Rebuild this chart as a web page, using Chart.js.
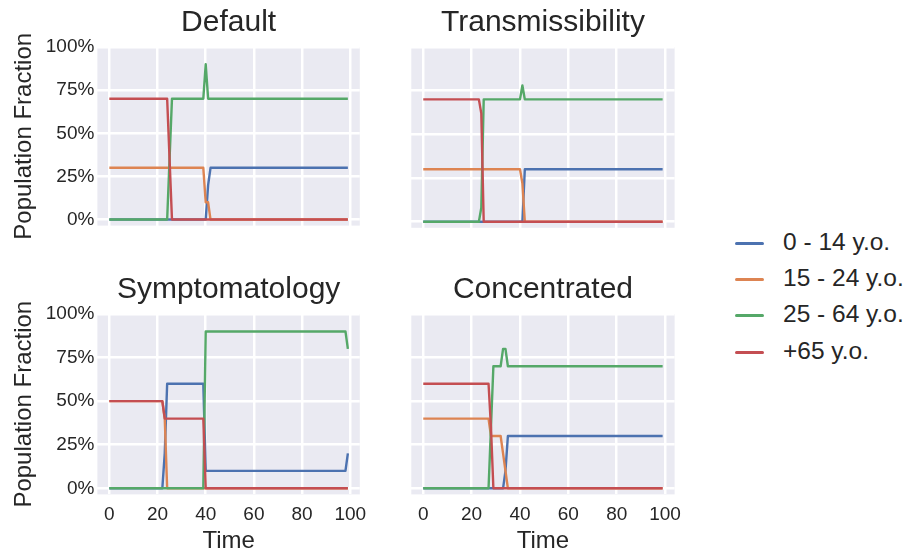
<!DOCTYPE html>
<html lang="en">
<head>
<meta charset="UTF-8">
<script src="https://cdn.jsdelivr.net/npm/chart.js"></script>
<title>Population Fraction by scenario</title>
<style>
  body { margin: 0; background: #fff; }
  #fig { position: relative; width: 911px; height: 557px; overflow: hidden; }
  #fig canvas { position: absolute; }
  #legend { position: absolute; left: 735px; top: 224px; font: 24.5px 'Liberation Sans', Arial, sans-serif; color: #262626; }
  #legend .item { height: 36.2px; line-height: 36.2px; white-space: nowrap; }
  #legend .swatch { display: inline-block; width: 29px; height: 3px; border-radius: 1.5px; margin-right: 19px; vertical-align: middle; }
</style>
</head>
<body>
<div id="fig">
  <canvas id="cDefault" width="380" height="240" style="left:0;top:0"></canvas>
  <canvas id="cTrans" width="295" height="240" style="left:400px;top:0"></canvas>
  <canvas id="cSympt" width="380" height="290" style="left:0;top:267px"></canvas>
  <canvas id="cConc" width="295" height="290" style="left:400px;top:267px"></canvas>
  <div id="legend"></div>
</div>
<script>
// age groups and colours (seaborn "deep")
const groups = ['0 - 14 y.o.', '15 - 24 y.o.', '25 - 64 y.o.', '+65 y.o.'];
const colors = ['#4C72B0', '#DD8452', '#55A868', '#C44E52'];

const xTicks = [0, 20, 40, 60, 80, 100];
const yTicks = [0, 0.25, 0.5, 0.75, 1.0];

// [time, fraction] points where each curve changes
const defaultKids   = [[0, 0], [40, 0], [41, 0.2], [42, 0.3], [99, 0.3]];
const defaultYoung  = [[0, 0.3], [39, 0.3], [40, 0.1], [41, 0.1], [42, 0], [99, 0]];
const defaultAdults = [[0, 0], [24, 0], [25, 0.35], [26, 0.7], [39, 0.7], [40, 0.9], [41, 0.7], [99, 0.7]];
const defaultOld    = [[0, 0.7], [24, 0.7], [25, 0.35], [26, 0], [99, 0]];

const transKids   = [[0, 0], [41, 0], [42, 0.3], [99, 0.3]];
const transYoung  = [[0, 0.3], [40, 0.3], [41, 0.22], [42, 0], [99, 0]];
const transAdults = [[0, 0], [23, 0], [24, 0.08], [25, 0.7], [40, 0.7], [41, 0.78], [42, 0.7], [99, 0.7]];
const transOld    = [[0, 0.7], [23, 0.7], [24, 0.62], [25, 0], [99, 0]];

const symptKids   = [[0, 0], [22, 0], [23, 0.2], [24, 0.6], [39, 0.6], [40, 0.1], [98, 0.1], [99, 0.2]];
const symptYoung  = [[0, 0.5], [22, 0.5], [23, 0.4], [24, 0], [99, 0]];
const symptAdults = [[0, 0], [39, 0], [40, 0.9], [98, 0.9], [99, 0.8]];
const symptOld    = [[0, 0.5], [22, 0.5], [23, 0.4], [39, 0.4], [40, 0], [99, 0]];

const concKids   = [[0, 0], [33, 0], [34, 0.1], [35, 0.3], [99, 0.3]];
const concYoung  = [[0, 0.4], [27, 0.4], [28, 0.3], [32, 0.3], [33, 0.2], [34, 0.1], [35, 0], [99, 0]];
const concAdults = [[0, 0], [27, 0], [28, 0.35], [29, 0.7], [32, 0.7], [33, 0.8], [34, 0.8], [35, 0.7], [99, 0.7]];
const concOld    = [[0, 0.6], [27, 0.6], [28, 0.35], [29, 0], [99, 0]];

const FONT = "'Liberation Sans', Arial, sans-serif";
const TEXT = '#262626';
Chart.defaults.font.family = FONT;
Chart.defaults.color = TEXT;

const plotBg = {
  id: 'plotBg',
  beforeDraw(chart) {
    const { ctx, chartArea: a } = chart;
    ctx.save();
    ctx.fillStyle = '#EAEAF2';
    ctx.fillRect(a.left, a.top, a.width, a.height);
    ctx.restore();
  }
};

function panel(id, title, series, o) {
  const datasets = series.map((pts, i) => ({
    label: groups[i],
    data: pts.map(p => ({ x: p[0], y: p[1] })),
    borderColor: colors[i],
    borderWidth: 2.4,
    pointRadius: 0,
    tension: 0,
    borderJoinStyle: 'round',
    order: series.length - i
  }));
  new Chart(document.getElementById(id), {
    type: 'line',
    data: { datasets },
    plugins: [plotBg],
    options: {
      responsive: false,
      animation: false,
      devicePixelRatio: 1,
      layout: { padding: { left: 0, top: 0, bottom: 0, right: o.padRight } },
      plugins: {
        legend: { display: false },
        tooltip: { enabled: false },
        title: {
          display: true, text: title, color: TEXT, fullSize: false,
          font: { size: 30, weight: 'normal' },
          padding: { top: 4.9, bottom: 6.1 }
        }
      },
      scales: {
        x: {
          type: 'linear', min: -4.95, max: 103.95,
          afterBuildTicks: s => { s.ticks = xTicks.map(v => ({ value: v })); },
          afterFit: s => { s.height = o.xHeight; },
          ticks: { display: o.showX, padding: 8.7, font: { size: 19 }, color: TEXT },
          grid: { color: '#ffffff', lineWidth: 2.5, drawTicks: false },
          border: { display: false },
          title: { display: o.showX, text: 'Time', color: TEXT, font: { size: 24 }, padding: { top: 0, bottom: 0.9 } }
        },
        y: {
          min: -0.035, max: 1.0,
          afterBuildTicks: s => { s.ticks = yTicks.map(v => ({ value: v })); },
          afterFit: s => { s.width = o.yWidth; },
          ticks: { display: o.showY, padding: 3, font: { size: 19 }, color: TEXT, callback: v => Math.round(v * 100) + '%' },
          grid: { color: '#ffffff', lineWidth: 2.5, drawTicks: false },
          border: { display: false },
          title: { display: o.showY, text: 'Population Fraction', color: TEXT, font: { size: 24 }, padding: { top: 10, bottom: 0 } }
        }
      }
    }
  });
}

const leftCol = { yWidth: 97.4, padRight: 20.2, showY: true };
const rightCol = { yWidth: 11.3, padRight: 20.4, showY: false };
const topRow = { xHeight: 12.2, showX: false };
const bottomRow = { xHeight: 62.6, showX: true };

panel('cDefault', 'Default', [defaultKids, defaultYoung, defaultAdults, defaultOld], { ...leftCol, ...topRow });
panel('cTrans', 'Transmissibility', [transKids, transYoung, transAdults, transOld], { ...rightCol, ...topRow });
panel('cSympt', 'Symptomatology', [symptKids, symptYoung, symptAdults, symptOld], { ...leftCol, ...bottomRow });
panel('cConc', 'Concentrated', [concKids, concYoung, concAdults, concOld], { ...rightCol, ...bottomRow });

const legend = document.getElementById('legend');
groups.forEach((g, i) => {
  const item = document.createElement('div');
  item.className = 'item';
  const sw = document.createElement('span');
  sw.className = 'swatch';
  sw.style.background = colors[i];
  item.appendChild(sw);
  item.appendChild(document.createTextNode(g));
  legend.appendChild(item);
});
</script>
</body>
</html>
